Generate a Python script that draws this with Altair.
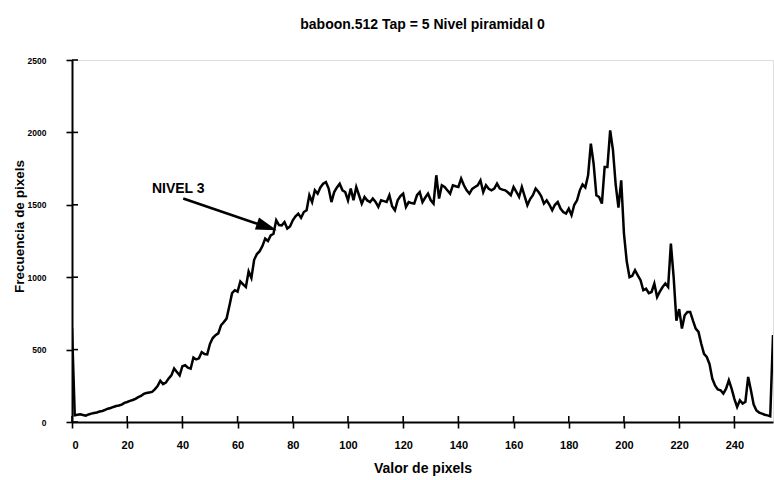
import altair as alt
import pandas as pd

# Histogram values (bins 0..254)
bins = list(range(255))
freq = [
    650,
    46, 50, 53, 48, 44, 52, 58, 62, 66, 72,
    76, 84, 92, 97, 104, 110, 114, 120, 132, 138,
    146, 152, 160, 172, 180, 194, 200, 204, 208, 225,
    248, 285, 262, 272, 300, 322, 369, 345, 322, 385,
    392, 375, 369, 445, 432, 440, 483, 470, 467, 540,
    580, 600, 612, 668, 690, 714, 800, 890, 910, 900,
    970, 950, 932, 1040, 995, 1120, 1160, 1180, 1215, 1266,
    1250, 1289, 1300, 1393, 1360, 1358, 1381, 1336, 1350, 1393,
    1420, 1439, 1410, 1450, 1462, 1566, 1519, 1600, 1577, 1620,
    1646, 1657, 1612, 1519, 1588, 1620, 1646, 1600, 1588, 1531,
    1612, 1531, 1623, 1566, 1508, 1554, 1530, 1519, 1543, 1520,
    1485, 1531, 1525, 1519, 1566, 1490, 1462, 1531, 1560, 1577,
    1485, 1519, 1512, 1508, 1566, 1588, 1519, 1550, 1577, 1531,
    1508, 1704, 1543, 1635, 1623, 1600, 1577, 1635, 1628, 1623,
    1681, 1635, 1600, 1577, 1610, 1623, 1635, 1669, 1588, 1635,
    1610, 1600, 1612, 1646, 1612, 1605, 1600, 1585, 1566, 1623,
    1590, 1554, 1623, 1560, 1497, 1540, 1566, 1612, 1590, 1560,
    1508, 1531, 1500, 1462, 1500, 1519, 1474, 1450, 1439, 1474,
    1428, 1500, 1531, 1600, 1640, 1620, 1704, 1922, 1784, 1566,
    1554, 1508, 1761, 1761, 2014, 1880, 1640, 1480, 1669, 1300,
    1110, 1000, 1010, 1048, 1013, 979, 910, 921, 890, 898,
    956, 863, 900, 932, 956, 932, 1232, 1000, 700, 780,
    645, 737, 760, 760, 700, 645, 622, 540, 470, 449,
    400, 300, 253, 225, 219, 196, 230, 288, 231, 160,
    104, 150, 127, 140, 311, 220, 120, 80, 65, 58,
    50, 46, 40, 600,
]

x_ticks = [0, 20, 40, 60, 80, 100, 120, 140, 160, 180, 200, 220, 240]
y_ticks = [0, 500, 1000, 1500, 2000, 2500]

# annotation (data coordinates)
note_text = ["NIVEL 3"]
note_x = [38.5]
note_y = [1579]
arrow_from = [40.3, 1543]
arrow_line_end = [70.0, 1351]
arrow_tip = [74.2, 1324]

FONT = "Liberation Sans"
W, H = 701, 362
TICK_HALF = 6

df = pd.DataFrame({"bin": bins, "freq": freq})

xs = alt.Scale(domain=[0, 254], nice=False, zero=False)
ys = alt.Scale(domain=[0, 2500], nice=False)

# outer half of each tick comes from the axes; the inner half from rule layers
line = alt.Chart(df).mark_line(color="black", strokeWidth=2.5, clip=True).encode(
    x=alt.X("bin:Q", scale=xs,
            axis=alt.Axis(values=x_ticks, title="Valor de pixels", ticks=True,
                          tickSize=TICK_HALF, tickWidth=1.6, tickColor="black",
                          grid=False, domainColor="black", domainWidth=2, format="d",
                          labelFont=FONT, labelFontSize=11, labelFontWeight="bold",
                          labelColor="black", labelPadding=11,
                          titleFont=FONT, titleFontSize=14, titleFontWeight="bold",
                          titleColor="black", titleBaseline="alphabetic",
                          titleY=50)),
    y=alt.Y("freq:Q", scale=ys,
            axis=alt.Axis(values=y_ticks, title="Frecuencia de pixels", ticks=True,
                          tickSize=TICK_HALF, tickWidth=1.6, tickColor="black",
                          grid=False, domainColor="black", domainWidth=2, format="d",
                          labelFont=FONT, labelFontSize=8.5, labelFontWeight="bold",
                          labelColor="black", labelPadding=20,
                          titleFont=FONT, titleFontSize=13.5, titleFontWeight="bold",
                          titleColor="black", titleBaseline="alphabetic",
                          titleX=-49, titleY=166)),
)

yt = alt.Chart(pd.DataFrame({"v": y_ticks})).mark_rule(
    color="black", strokeWidth=1.6).encode(
    y=alt.Y("v:Q", scale=ys), x=alt.value(0), x2=alt.value(TICK_HALF))
xt = alt.Chart(pd.DataFrame({"v": x_ticks})).mark_rule(
    color="black", strokeWidth=1.6).encode(
    x=alt.X("v:Q", scale=xs), y=alt.value(H - TICK_HALF), y2=alt.value(H))

note = alt.Chart(pd.DataFrame({"t": note_text, "x": note_x, "y": note_y})).mark_text(
    font=FONT, fontSize=14, fontWeight="bold", color="black", baseline="alphabetic",
    align="center").encode(x=alt.X("x:Q", scale=xs), y=alt.Y("y:Q", scale=ys), text="t:N")

arrow_df = pd.DataFrame({"x": [arrow_from[0]], "y": [arrow_from[1]],
                         "x2": [arrow_line_end[0]], "y2": [arrow_line_end[1]]})
arrow = alt.Chart(arrow_df).mark_rule(color="black", strokeWidth=2.6).encode(
    x=alt.X("x:Q", scale=xs), y=alt.Y("y:Q", scale=ys), x2="x2:Q", y2="y2:Q")

head = alt.Chart(pd.DataFrame({"x": [arrow_tip[0]], "y": [arrow_tip[1]]})).mark_point(
    shape="M0,0L-2,-0.6L-2,0.6Z", size=440, filled=True, color="black", opacity=1,
    angle=19).encode(x=alt.X("x:Q", scale=xs), y=alt.Y("y:Q", scale=ys))

chart = alt.layer(line, yt, xt, note, arrow, head).properties(
    width=W, height=H,
    title=alt.TitleParams("baboon.512 Tap = 5 Nivel piramidal 0", font=FONT, fontSize=14,
                          fontWeight="bold", color="black", anchor="middle",
                          baseline="alphabetic", offset=13),
    autosize=alt.AutoSizeParams(type="none"),
    padding={"left": 72, "top": 60, "right": 1, "bottom": 58},
).configure_view(stroke=None).configure(background="white")

chart.save("out.html", embed_options={"renderer": "svg", "actions": False})
